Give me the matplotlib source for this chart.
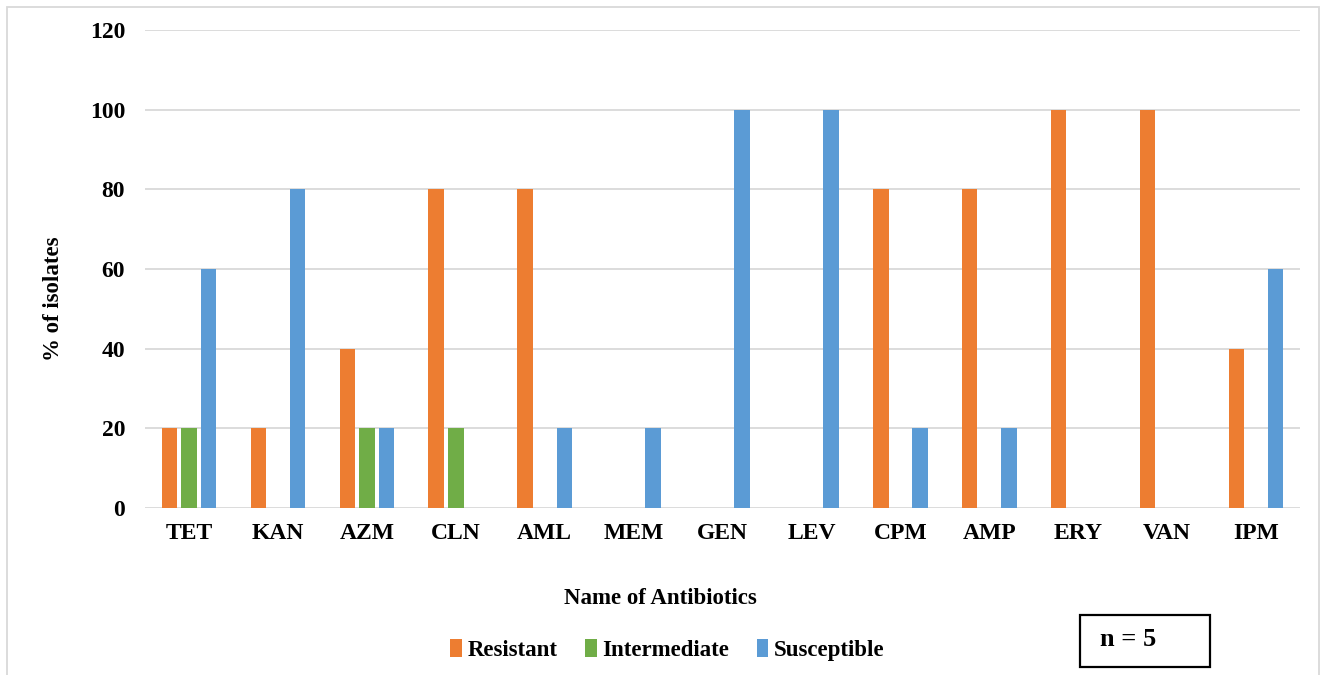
import numpy as np
import matplotlib.pyplot as plt
from matplotlib.patches import Rectangle

antibiotics = ['TET', 'KAN', 'AZM', 'CLN', 'AML', 'MEM', 'GEN', 'LEV', 'CPM', 'AMP', 'ERY', 'VAN', 'IPM']
resistant = [20, 20, 40, 80, 80, 0, 0, 0, 80, 80, 100, 100, 40]
intermediate = [20, 0, 20, 20, 0, 0, 0, 0, 0, 0, 0, 0, 0]
susceptible = [60, 80, 20, 0, 20, 20, 100, 100, 20, 20, 0, 0, 60]

series = [('Resistant', resistant, '#ED7D31'),
          ('Intermediate', intermediate, '#70AD47'),
          ('Susceptible', susceptible, '#5B9BD5')]

plt.rcParams['font.family'] = ['Liberation Serif', 'DejaVu Serif']
plt.rcParams['font.weight'] = 'bold'

fig = plt.figure(figsize=(13.27, 6.75), dpi=100)
ax = fig.add_axes([0.109, 0.2474, 0.871, 0.7082])

x = np.arange(len(antibiotics))
w = 0.175
step = 0.22
for i, (name, vals, col) in enumerate(series):
    ax.bar(x + (i - 1) * step, vals, width=w, color=col, label=name, zorder=3)

ax.set_xlim(-0.5, len(antibiotics) - 0.5)
ax.set_ylim(0, 120)
ax.set_yticks(range(0, 121, 20))
ax.set_xticks(x)
ax.set_xticklabels(antibiotics)
ax.tick_params(axis='both', length=0, labelsize=17)
ax.tick_params(axis='x', pad=11)
ax.tick_params(axis='y', pad=14)
for lab in ax.get_xticklabels() + ax.get_yticklabels():
    lab.set_fontweight('bold')
ax.grid(axis='y', color='#D9D9D9', linewidth=1.3, zorder=0)
for s in ax.spines.values():
    s.set_visible(False)

fig.text(0.040, 0.557, '% of isolates', rotation=90, ha='center', va='center',
         fontsize=16.5, fontweight='bold')
fig.text(0.498, 0.114, 'Name of Antibiotics', ha='center', va='center',
         fontsize=16.5, fontweight='bold')

leg = fig.legend(loc='center', bbox_to_anchor=(0.503, 0.037), ncol=3, frameon=False,
                 handlelength=0.5, handleheight=0.85, handletextpad=0.25,
                 columnspacing=1.2, prop={'weight': 'bold', 'size': 16.5})

# outer chart border
fig.patches.append(Rectangle((0.0053, -0.01), 0.989, 1.0, transform=fig.transFigure,
                             fill=False, edgecolor='#D9D9D9', linewidth=1.3))

# n = 5 box
fig.patches.append(Rectangle((0.814, 0.012), 0.098, 0.077, transform=fig.transFigure,
                             fill=False, edgecolor='black', linewidth=1.6))
fig.text(0.850, 0.052, 'n = 5', ha='center', va='center', fontsize=19, fontweight='bold')

fig.savefig('out.png', dpi=100, facecolor='white')
